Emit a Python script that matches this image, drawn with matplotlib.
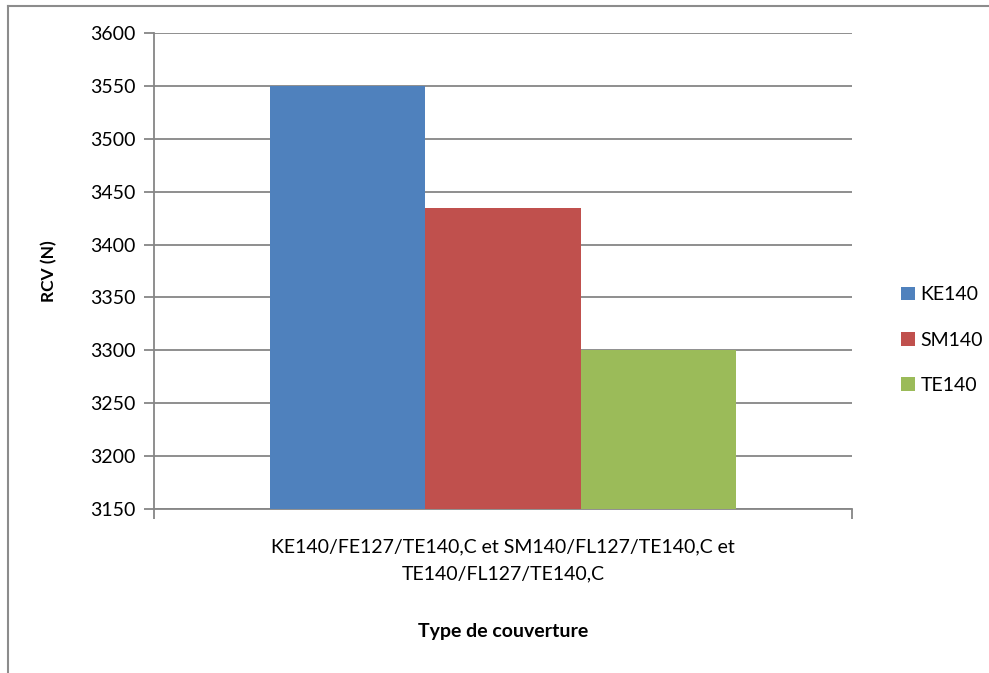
import matplotlib.pyplot as plt
from matplotlib.lines import Line2D
import numpy as np

plt.rcParams['font.family'] = ['Lato', 'DejaVu Sans']

series = ['KE140', 'SM140', 'TE140']
values = [3550, 3435, 3300]
colors = ['#4F81BD', '#C0504D', '#9BBB59']
category = 'KE140/FE127/TE140,C et SM140/FL127/TE140,C et\nTE140/FL127/TE140,C'

W, H = 989, 673
fig = plt.figure(figsize=(W / 100, H / 100), dpi=100)
ax = fig.add_axes([154 / W, 1 - 509 / H, (852 - 154) / W, (509 - 33) / H])

# chart frame (top and left edges only visible)
fig.add_artist(Line2D([8 / W, 1], [1 - 6 / H, 1 - 6 / H], color='#8c8c8c', lw=1.5,
                      transform=fig.transFigure))
fig.add_artist(Line2D([8 / W, 8 / W], [0, 1 - 6 / H], color='#8c8c8c', lw=1.5,
                      transform=fig.transFigure))

# clustered bars, gap width 150 %
n = len(series)
w = 1 / (n + 1.5)
x = (np.arange(n) - (n - 1) / 2) * w
for xi, v, c, s in zip(x, values, colors, series):
    ax.bar(xi, v - 3150, bottom=3150, width=w, color=c, label=s, zorder=3)

ax.set_xlim(-0.5, 0.5)
ax.set_ylim(3150, 3600)
ax.set_yticks(np.arange(3150, 3601, 50))
ax.grid(axis='y', color='#868686', lw=1.3, zorder=0)
ax.set_axisbelow(True)

for sp in ['top', 'right']:
    ax.spines[sp].set_visible(False)
for sp in ['left', 'bottom']:
    ax.spines[sp].set_color('#868686')
    ax.spines[sp].set_linewidth(1.3)

ax.tick_params(axis='y', length=7, width=1.3, color='#868686', labelsize=14, pad=6)
ax.set_xticks([-0.5, 0.5])
ax.set_xticklabels(['', ''])
ax.tick_params(axis='x', length=7, width=1.3, color='#868686')
ax.text(0.5, -0.062, category, transform=ax.transAxes, ha='center', va='top',
        fontsize=14, linespacing=1.7)

ax.set_ylabel('RCV (N)', fontsize=12.5, fontweight='bold', labelpad=24)
ax.text(0.5, -0.24, 'Type de couverture', transform=ax.transAxes, ha='center',
        va='top', fontsize=14, fontweight='bold')

ax.legend(loc='center left', bbox_to_anchor=(1.045, 0.355), frameon=False,
          fontsize=14, handlelength=0.7, handleheight=0.7, handletextpad=0.3,
          labelspacing=1.45)

fig.savefig('out.png', dpi=100)
